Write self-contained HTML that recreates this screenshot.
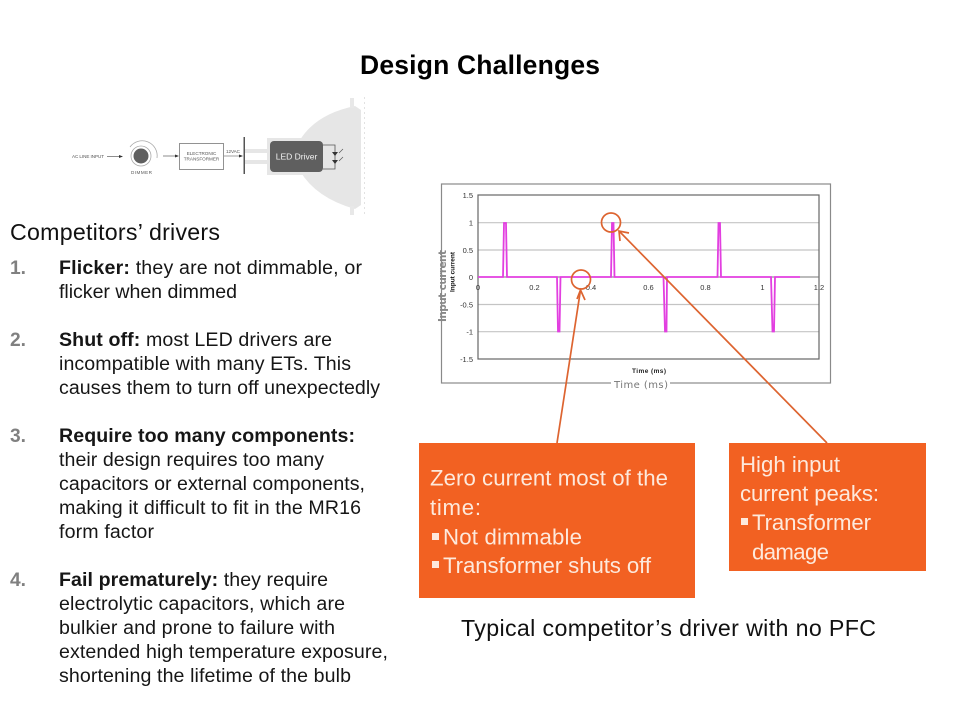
<!DOCTYPE html>
<html><head><meta charset="utf-8"><style>
html,body{margin:0;padding:0;background:#fff}
svg{display:block}
text{font-family:"Liberation Sans",sans-serif}
.b{font-size:19.6px;fill:#161616}
.n{font-size:19.2px;font-weight:bold;fill:#808080}
.o{font-size:22.2px;fill:#fde9dc}
.t{font-size:7.5px;fill:#333}
.d{font-size:4.6px;fill:#555}
</style></head><body>
<svg width="960" height="720" viewBox="0 0 960 720" xmlns="http://www.w3.org/2000/svg">
<rect width="960" height="720" fill="#fff"/>
<text x="360" y="74" font-size="26.500" font-weight="bold" fill="#000" textLength="240">Design Challenges</text>

<!-- circuit diagram -->
<path d="M361,110 L355,106 Q316,114 300,140 L300,171 Q316,198 355,209 L361,205 Z" fill="#e6e6e6"/>
<rect x="350" y="98" width="4" height="10" fill="#e8e8e8"/><rect x="350" y="206" width="4" height="9" fill="#e8e8e8"/>
<line x1="364.500" y1="97" x2="364.500" y2="216" stroke="#e2e2e2" stroke-width="1" stroke-dasharray="2 3"/>
<rect x="267" y="138" width="36" height="37" fill="#e6e6e6"/>
<rect x="245" y="149" width="23" height="4" fill="#e6e6e6"/><rect x="245" y="160" width="23" height="4" fill="#e6e6e6"/>
<rect x="243.500" y="137" width="1.500" height="37" fill="#555"/>
<rect x="270" y="141" width="53" height="31" rx="4" fill="#5f5f5f"/>
<text x="296.500" y="159.500" font-size="8.500" fill="#f2f2f2" text-anchor="middle">LED Driver</text>
<path d="M323,145 H335 V169 H323" fill="none" stroke="#555" stroke-width="0.800"/>
<path d="M332,152 H338 L335,156 Z M332,160 H338 L335,164 Z" fill="#333"/>
<path d="M339,153 L343,149 M339,161 L343,157" stroke="#555" stroke-width="0.700"/>
<text class="d" x="72" y="158" textLength="32">AC LINE INPUT</text>
<path d="M107,156.500 H122" stroke="#444" stroke-width="0.600"/><path d="M123,156.500 L119,155 V158 Z" fill="#333"/>
<circle cx="141" cy="156" r="7.500" fill="#5f5f5f"/>
<circle cx="141" cy="156" r="10" fill="none" stroke="#aaa" stroke-width="0.800"/>
<path d="M130,147 A15,15 0 0 1 157,158" fill="none" stroke="#aaa" stroke-width="0.800"/>
<text class="d" x="131" y="174" textLength="21">DIMMER</text>
<path d="M163,156 H178" stroke="#444" stroke-width="0.600"/><path d="M179,156 L175,154.500 V157.500 Z" fill="#333"/>
<rect x="179.500" y="143.500" width="44" height="26" fill="#fff" stroke="#777" stroke-width="0.800"/>
<text class="d" x="201.500" y="155" text-anchor="middle">ELECTRONIC</text>
<text class="d" x="201.500" y="160.500" text-anchor="middle">TRANSFORMER</text>
<text class="d" x="226" y="153" textLength="14">12VAC</text>
<path d="M224,156 H242" stroke="#444" stroke-width="0.600"/><path d="M243,156 L239,154.500 V157.500 Z" fill="#333"/>

<!-- left text -->
<text x="10" y="240" font-size="23.200" fill="#111" textLength="210">Competitors’ drivers</text>
<text class="n" x="10" y="274">1.</text>
<text class="b" x="59" y="274" textLength="303"><tspan font-weight="bold">Flicker:</tspan> they are not dimmable, or</text>
<text class="b" x="59" y="298" textLength="178">flicker when dimmed</text>
<text class="n" x="10" y="346">2.</text>
<text class="b" x="59" y="346" textLength="273"><tspan font-weight="bold">Shut off:</tspan> most LED drivers are</text>
<text class="b" x="59" y="370" textLength="292">incompatible with many ETs. This</text>
<text class="b" x="59" y="394" textLength="321">causes them to turn off unexpectedly</text>
<text class="n" x="10" y="442">3.</text>
<text class="b" x="59" y="442" textLength="296" font-weight="bold">Require too many components:</text>
<text class="b" x="59" y="466" textLength="265">their design requires too many</text>
<text class="b" x="59" y="490" textLength="306">capacitors or external components,</text>
<text class="b" x="59" y="514" textLength="302">making it difficult to fit in the MR16</text>
<text class="b" x="59" y="538" textLength="95">form factor</text>
<text class="n" x="10" y="586">4.</text>
<text class="b" x="59" y="586" textLength="269"><tspan font-weight="bold">Fail prematurely:</tspan> they require</text>
<text class="b" x="59" y="610" textLength="286">electrolytic capacitors, which are</text>
<text class="b" x="59" y="634" textLength="276">bulkier and prone to failure with</text>
<text class="b" x="59" y="658" textLength="329">extended high temperature exposure,</text>
<text class="b" x="59" y="682" textLength="292">shortening the lifetime of the bulb</text>

<!-- chart -->
<rect x="441.500" y="184" width="389" height="199" fill="#fff" stroke="#8a8a8a" stroke-width="1.200"/>
<g stroke="#c4c4c4" stroke-width="1.200">
<line x1="478" y1="222.700" x2="819" y2="222.700"/><line x1="478" y1="250" x2="819" y2="250"/>
<line x1="478" y1="304.500" x2="819" y2="304.500"/><line x1="478" y1="331.700" x2="819" y2="331.700"/>
</g>
<rect x="478" y="195" width="341" height="164" fill="none" stroke="#666" stroke-width="1.200"/>
<line x1="478" y1="277" x2="819" y2="277" stroke="#777"/>
<text class="t" x="473" y="198" text-anchor="end">1.5</text><text class="t" x="473" y="225.500" text-anchor="end">1</text><text class="t" x="473" y="253" text-anchor="end">0.5</text><text class="t" x="473" y="280" text-anchor="end">0</text><text class="t" x="473" y="307.500" text-anchor="end">-0.5</text><text class="t" x="473" y="334.500" text-anchor="end">-1</text><text class="t" x="473" y="362" text-anchor="end">-1.5</text>
<g text-anchor="middle">
<text class="t" x="478" y="290">0</text><text class="t" x="534.500" y="290">0.2</text><text class="t" x="591" y="290">0.4</text><text class="t" x="648.500" y="290">0.6</text><text class="t" x="705.500" y="290">0.8</text><text class="t" x="762.500" y="290">1</text><text class="t" x="819" y="290">1.2</text>
</g>
<path d="M478,277 H503 L504,223 H506 L507,277 H557 L558,331.500 H559.500 L560.500,277 H611 L612,223 H613.500 L614.500,277 H663.500 L665,331.500 H666.500 L667,277 H717.500 L718.500,223 H720 L721,277 H771 L772.500,331.500 H774 L775,277 H800" fill="none" stroke="#e23fe0" stroke-width="1.800"/>
<text transform="translate(454.500,272) rotate(-90)" font-size="6.500" font-weight="bold" fill="#111" text-anchor="middle">Input current</text>
<text transform="translate(446,286) rotate(-90)" style="font-family:'DejaVu Sans',sans-serif" font-size="10.500" font-weight="bold" fill="#888" text-anchor="middle" textLength="72">Input current</text>
<text x="632" y="373" font-size="6.500" font-weight="bold" fill="#222" textLength="34">Time (ms)</text>
<rect x="611" y="378" width="59" height="10" fill="#fff"/>
<text x="614" y="388" style="font-family:'DejaVu Sans',sans-serif" font-size="10" fill="#777" textLength="54">Time (ms)</text>

<!-- callouts -->
<g stroke="#dd6430" stroke-width="1.700" fill="none">
<circle cx="611" cy="222.500" r="9.500"/><circle cx="581" cy="279.500" r="9.500"/>
<line x1="557" y1="443" x2="580.500" y2="290"/>
<line x1="827" y1="443" x2="619" y2="231"/>
<path d="M577,299 L580.500,290 L585,300"/><path d="M620,241 L619,231 L629,233"/>
</g>
<rect x="419" y="443" width="276" height="155" fill="#f26122"/>
<rect x="729" y="443" width="197" height="128" fill="#f26122"/>
<g>
<text class="o" x="430" y="485.500" textLength="238">Zero current most of the</text>
<text class="o" x="430" y="515" textLength="51">time:</text>
<rect x="432" y="533" width="7" height="7" fill="#fde9dc"/>
<text class="o" x="443" y="544.500" textLength="139">Not dimmable</text>
<rect x="432" y="561" width="7" height="7" fill="#fde9dc"/>
<text class="o" x="443" y="573" textLength="208">Transformer shuts off</text>
<text class="o" x="740" y="472" textLength="100">High input</text>
<text class="o" x="740" y="501" textLength="139">current peaks:</text>
<rect x="741" y="518" width="7" height="7" fill="#fde9dc"/>
<text class="o" x="752" y="530" textLength="119">Transformer</text>
<text class="o" x="752" y="559.500" textLength="77">damage</text>
</g>
<text x="461" y="636" font-size="23.200" fill="#111" textLength="415">Typical competitor’s driver with no PFC</text>
</svg>
</body></html>
